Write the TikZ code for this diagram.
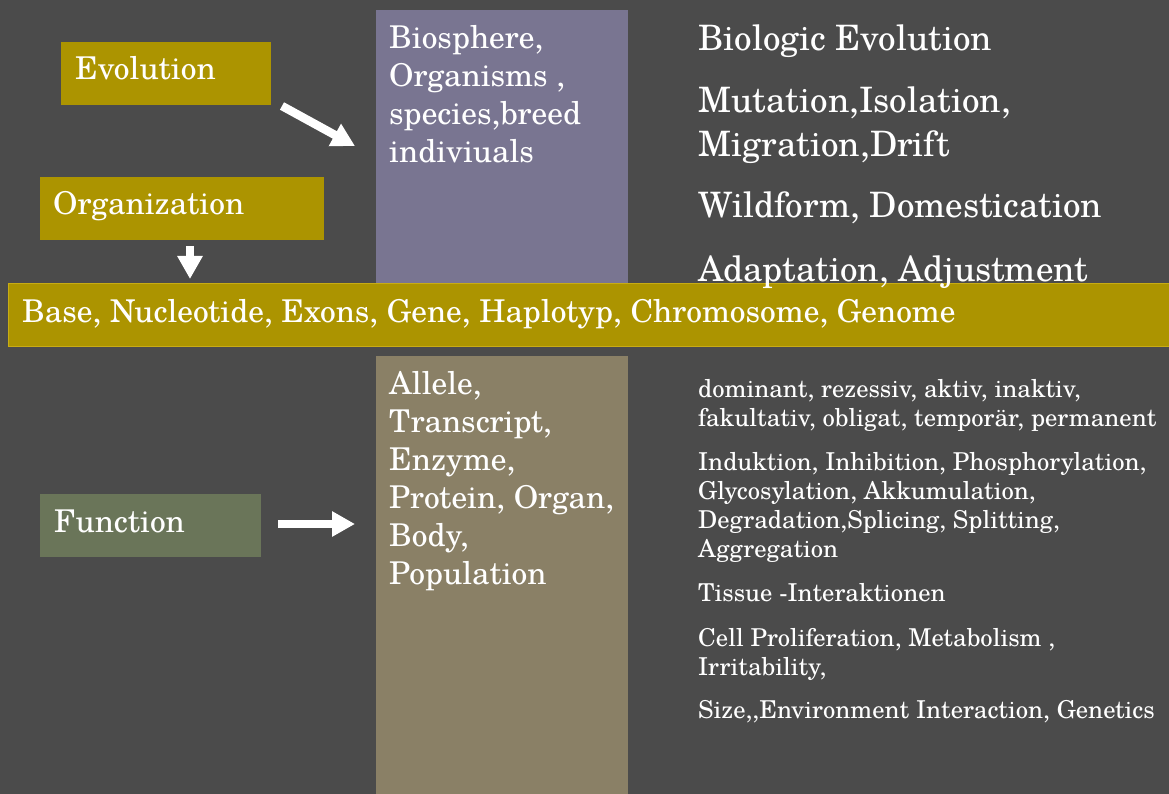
\documentclass[tikz,border=0pt]{standalone}
\usepackage{fontspec}
\setmainfont{TeX Gyre Schola}
\usetikzlibrary{arrows.meta,calc}
\definecolor{bg}{RGB}{75,75,75}
\definecolor{gold}{RGB}{172,148,0}
\definecolor{goldedge}{RGB}{200,172,20}
\definecolor{purp}{RGB}{121,117,145}
\definecolor{brn}{RGB}{138,128,102}
\definecolor{grn}{RGB}{106,117,89}
\tikzset{
  big/.style={font=\fontsize{31.4}{38}\selectfont, text=white, inner sep=0pt, anchor=base west, align=left},
  head/.style={font=\fontsize{35}{44}\selectfont, text=white, inner sep=0pt, anchor=base west, align=left},
  small/.style={font=\fontsize{24.6}{29}\selectfont, text=white, inner sep=0pt, anchor=base west, align=left},
  blockarrow/.style={draw=white, line width=8.5pt, -{Triangle[width=24pt,length=23pt]}},
}
\begin{document}
\begin{tikzpicture}[x=1pt,y=-1pt]
\fill[bg] (0,0) rectangle (1169,794);
\useasboundingbox (0,0) rectangle (1169,794);
% boxes
\fill[purp] (376,10) rectangle (628,283);
\coordinate (bio) at (376,10);
\fill[brn] (376,356) rectangle (628,794);
\coordinate (allele) at (376,356);
\fill[gold] (61,42) rectangle (271,105);
\coordinate (evo) at (271,105);
\fill[gold] (40,177) rectangle (324,240);
\coordinate (org) at (190,240);
\fill[grn] (40,494) rectangle (261,557);
\coordinate (fun) at (261,524);
\draw[goldedge, fill=gold, line width=1pt] (8.5,283.5) rectangle (1175,346.5);
\coordinate (base) at (190,283);
% labels (multi-line nodes are anchored at the baseline of their last line)
\node[big] (tevo) at (75,80) {Evolution};
\node[big] (torg) at (53,215) {Organization};
\node[big] (tfun) at (54,532) {Function};
\node[big] (tbase) at (22,322) {Base, Nucleotide, Exons, Gene, Haplotyp, Chromosome, Genome};
\node[big] (tbio) at (389,163) {Biosphere,\\Organisms ,\\species,breed\\indiviuals};
\node[big] (tall) at (389,584) {Allele,\\Transcript,\\Enzyme,\\Protein, Organ,\\Body,\\Population};
% right top
\node[head] (r1) at (698,51) {Biologic Evolution};
\node[head] (r2) at (698,157) {Mutation,Isolation,\\Migration,Drift};
\node[head] (r3) at (698,218) {Wildform, Domestication};
\node[head] (r4) at (698,281) {Adaptation, Adjustment};
% right bottom
\node[small] (s1) at (698,426) {dominant, rezessiv, aktiv, inaktiv,\\fakultativ, obligat, temporär, permanent};
\node[small] (s2) at (698,557) {Induktion, Inhibition, Phosphorylation,\\Glycosylation, Akkumulation,\\Degradation,Splicing, Splitting,\\Aggregation};
\node[small] (s3) at (698,601) {Tissue -Interaktionen};
\node[small] (s4) at (698,675) {Cell Proliferation, Metabolism ,\\Irritability,};
\node[small] (s5) at (698,718) {Size,{},Environment Interaction, Genetics};
% arrows
\draw[blockarrow] ([shift={(11,1)}]evo) -- ([shift={(-21,136)}]bio);
\draw[blockarrow] ([shift={(0,6)}]org) -- ([shift={(0,-4)}]base);
\draw[blockarrow] ([shift={(17,0)}]fun) -- ([shift={(-21,168)}]allele);
\end{tikzpicture}
\end{document}
